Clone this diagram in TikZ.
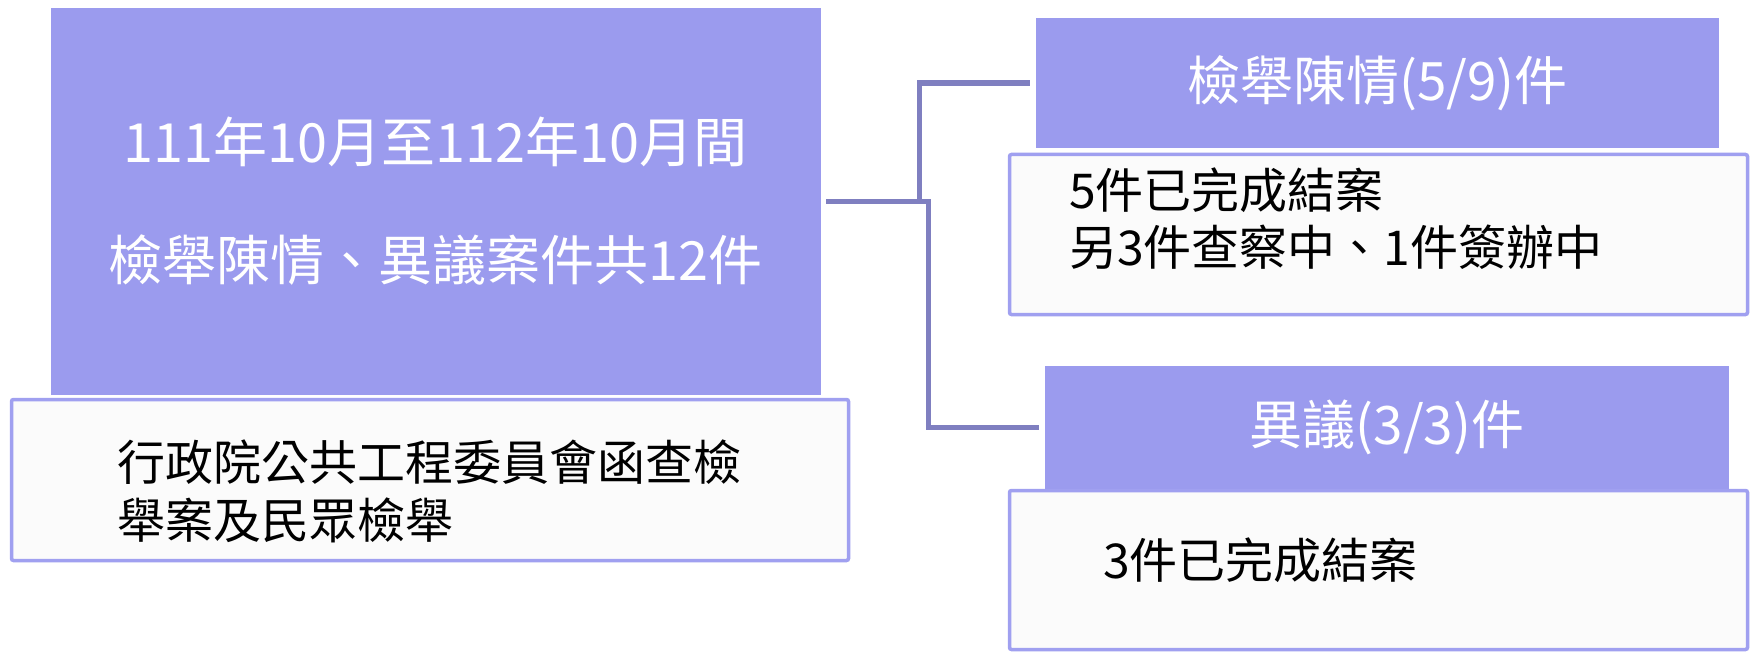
\documentclass[tikz,border=0pt]{standalone}
\usepackage{fontspec}
\setmainfont{Noto Sans CJK TC}
\definecolor{hdr}{HTML}{9B9BEE}
\definecolor{conn}{HTML}{7F7FC0}
\definecolor{bord}{HTML}{A0A0F0}
\definecolor{panefill}{HTML}{FBFBFB}
\begin{document}
\begin{tikzpicture}[x=1pt,y=-1pt,
  head/.style={fill=hdr, inner sep=0pt, text=white, align=center},
  panebox/.style={fill=panefill, draw=bord, line width=3.5pt, inner sep=0pt, rounded corners=2pt},
  link/.style={draw=conn, line width=5.2pt},
  body/.style={text=black, align=left, anchor=west, inner sep=0pt, font=\fontsize{48}{57}\selectfont}]
\useasboundingbox[fill=white] (0,0) rectangle (1752,652);

% left column
\node[panebox, minimum width=837pt, minimum height=161pt] (srcpane) at (430,480) {};
\node[head, minimum width=770pt, minimum height=387pt, font=\fontsize{54}{118}\selectfont] (main) at (435.5,201.5)
  {111年10月至112年10月間\\檢舉陳情、異議案件共12件};
\node[body, font=\fontsize{48}{58}\selectfont] (srctext) at (117,491.5)
  {行政院公共工程委員會函查檢\\舉案及民眾檢舉};

% top right
\node[panebox, minimum width=738pt, minimum height=160pt] (pane1) at (1378.5,234.5) {};
\node[head, minimum width=683pt, minimum height=130pt, font=\fontsize{53}{60}\selectfont] (head1) at (1377.5,83)
  {檢舉陳情(5/9)件};
\node[body] (text1) at (1069,218.5) {5件已完成結案\\另3件查察中、1件簽辦中};

% bottom right
\node[panebox, minimum width=738pt, minimum height=159pt] (pane2) at (1378.5,570) {};
\node[head, minimum width=684pt, minimum height=123pt, font=\fontsize{53}{60}\selectfont] (head2) at (1387,427.5)
  {異議(3/3)件};
\node[body] (text2) at (1103,560) {3件已完成結案};

% connectors
\coordinate (j1) at (919.5,201.5);
\coordinate (j2) at (928.5,201.5);
\draw[link] ([xshift=5.5pt]main.east) -- (j1) |- ([xshift=-6pt]head1.west);
\draw[link] ([xshift=5.5pt]main.east) -- (j2) |- ([xshift=-6pt]head2.west);
\end{tikzpicture}
\end{document}
